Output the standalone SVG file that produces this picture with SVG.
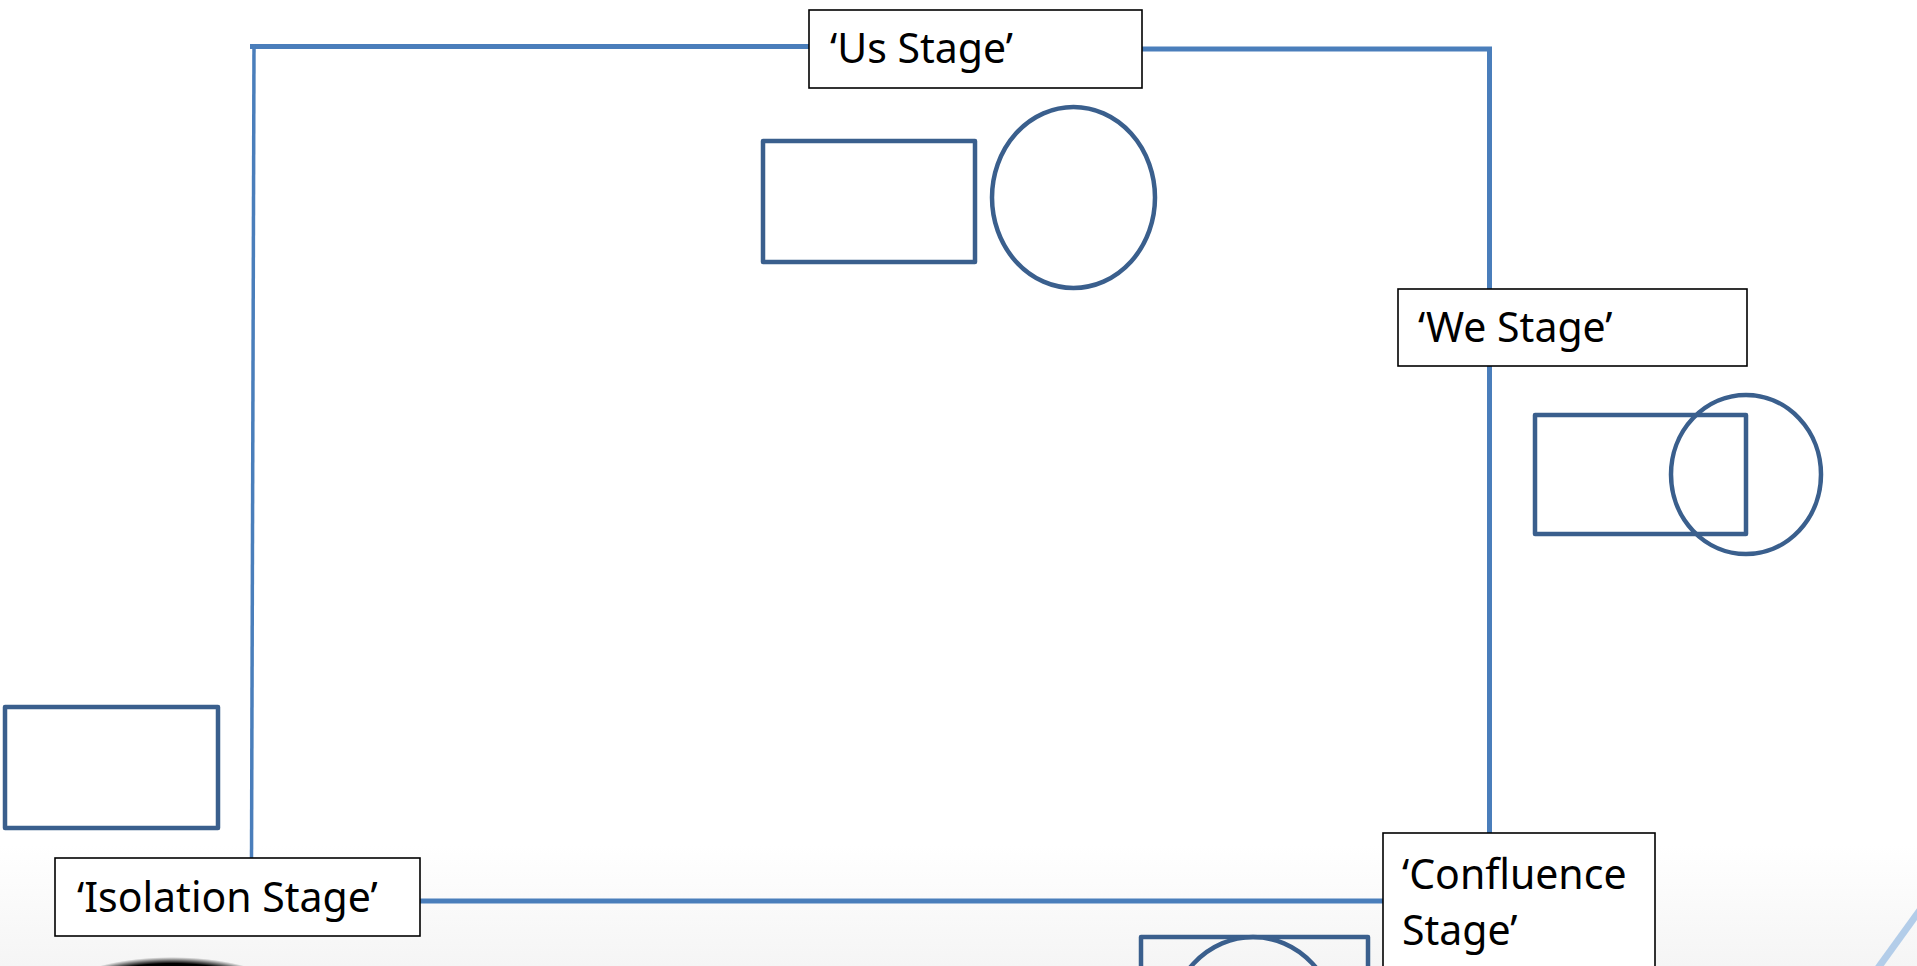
<svg xmlns="http://www.w3.org/2000/svg" width="1917" height="966" viewBox="0 0 1917 966">
<defs>
<style>
.conn{stroke:#4a7ebb;stroke-width:5;fill:none;stroke-linecap:butt}
.label rect{fill:#ffffff;stroke:#000000;stroke-width:1.6}
.label text{font-family:"Noto Sans","Open Sans","Liberation Sans",sans-serif;font-size:41px;fill:#000000}
.shape{fill:none;stroke:#3a5f8d;stroke-width:4.5;stroke-linejoin:round}
</style>
<linearGradient id="bg" x1="0" y1="0" x2="0" y2="1">
<stop offset="0" stop-color="#ffffff"/>
<stop offset="1" stop-color="#f5f5f5"/>
</linearGradient>
<radialGradient id="blk" cx="0.5" cy="0.5" r="0.5">
<stop offset="0.85" stop-color="#000000"/>
<stop offset="1" stop-color="#000000" stop-opacity="0"/>
</radialGradient>
</defs>
<rect x="0" y="0" width="1917" height="966" fill="#ffffff"/>
<rect x="0" y="845" width="1917" height="121" fill="url(#bg)"/>

<g id="decoration">
<line x1="1920" y1="910" x2="1878" y2="968" stroke="#b3cde9" stroke-width="7"/>
<ellipse cx="172" cy="1000" rx="120" ry="43" fill="url(#blk)"/>
</g>

<g id="connectors">
<line class="conn" x1="250" y1="46.5" x2="812" y2="46.5"/>
<line class="conn" x1="1140" y1="49" x2="1492" y2="49"/>
<line class="conn" x1="254" y1="44" x2="251.5" y2="862" style="stroke-width:3.5"/>
<line class="conn" x1="1489.5" y1="47" x2="1489.5" y2="835"/>
<line class="conn" x1="310" y1="901" x2="1385" y2="901"/>
</g>

<g id="us-shapes">
<rect class="shape" x="763" y="141" width="212" height="121"/>
<ellipse class="shape" cx="1073.5" cy="197.5" rx="81.5" ry="90.5"/>
</g>

<g id="we-shapes">
<rect class="shape" x="1535" y="415" width="211" height="119"/>
<ellipse class="shape" cx="1746" cy="474.5" rx="75" ry="79.5"/>
</g>

<g id="isolation-shapes">
<rect class="shape" x="5" y="707" width="213" height="121"/>
</g>

<g id="confluence-shapes">
<rect class="shape" x="1141" y="937" width="227" height="121"/>
<ellipse class="shape" cx="1253" cy="1027.5" rx="84" ry="90.5"/>
</g>

<g id="us-stage" class="label">
<rect x="809" y="10" width="333" height="78"/>
<text x="830" y="63">‘Us Stage’</text>
</g>

<g id="we-stage" class="label">
<rect x="1398" y="289" width="349" height="77"/>
<text x="1418" y="342">‘We Stage’</text>
</g>

<g id="isolation-stage" class="label">
<rect x="55" y="858" width="365" height="78"/>
<text x="77" y="912">‘Isolation Stage’</text>
</g>

<g id="confluence-stage" class="label">
<rect x="1383" y="833" width="272" height="150"/>
<text x="1402" y="889">‘Confluence</text>
<text x="1402" y="945">Stage’</text>
</g>
</svg>
